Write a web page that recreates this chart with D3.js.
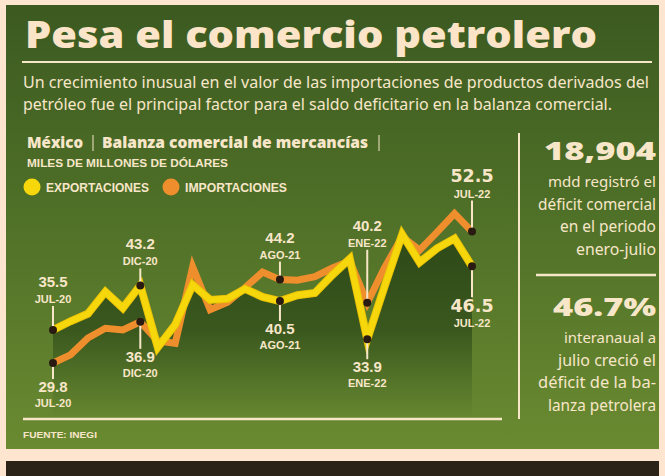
<!DOCTYPE html>
<html>
<head>
<meta charset="utf-8">
<script src="https://cdn.jsdelivr.net/npm/d3@7"></script>
<style>
  html, body { margin: 0; padding: 0; background: #fde5cf; }
  svg { display: block; }
</style>
</head>
<body>
<svg id="chart" width="665" height="476"></svg>
<script>
// months from JUL-20 to JUL-22
const months = ["JUL-20", "AGO-20", "SEP-20", "OCT-20", "NOV-20", "DIC-20",
  "ENE-21", "FEB-21", "MAR-21", "ABR-21", "MAY-21", "JUN-21", "JUL-21",
  "AGO-21", "SEP-21", "OCT-21", "NOV-21", "DIC-21", "ENE-22", "FEB-22",
  "MAR-22", "ABR-22", "MAY-22", "JUN-22", "JUL-22"];

// miles de millones de dólares
const exportaciones = [35.5, 37.0, 38.3, 42.1, 39.3, 43.2, 32.5, 36.4, 43.3,
  40.7, 40.9, 42.6, 41.2, 40.5, 41.5, 41.9, 45.0, 47.8, 33.9, 43.1, 52.0,
  47.2, 49.6, 51.3, 46.5];
const importaciones = [29.8, 31.2, 34.1, 35.8, 35.5, 36.9, 33.6, 33.2, 46.4,
  39.0, 40.3, 42.8, 45.5, 44.2, 44.1, 44.7, 46.2, 47.4, 40.2, 46.3, 51.6,
  49.3, 52.4, 55.6, 52.5];

// highlighted points: series, month, label above or below the line
const highlights = [
  { serie: "exp", month: "JUL-20", side: "up" },
  { serie: "exp", month: "DIC-20", side: "up" },
  { serie: "exp", month: "AGO-21", side: "down" },
  { serie: "exp", month: "ENE-22", side: "down" },
  { serie: "exp", month: "JUL-22", side: "down", big: true },
  { serie: "imp", month: "JUL-20", side: "down" },
  { serie: "imp", month: "DIC-20", side: "down" },
  { serie: "imp", month: "AGO-21", side: "up" },
  { serie: "imp", month: "ENE-22", side: "up" },
  { serie: "imp", month: "JUL-22", side: "up", big: true },
];
// leader length per highlight (same order)
const leaderLength = [20, 13, 16, 16, 27, 12, 23, 14, 49, 27];

const title = "Pesa el comercio petrolero";
const subtitle = [
  "Un crecimiento inusual en el valor de las importaciones de productos derivados del",
  "petróleo fue el principal factor para el saldo deficitario en la balanza comercial.",
];
const sideBlocks = [
  { big: "18,904", lines: ["mdd registró el", "déficit comercial", "en el periodo", "enero-julio"] },
  { big: "46.7%", lines: ["interanaual a", "julio creció el", "déficit de la ba-", "lanza petrolera"] },
];

const cream = "#f8e6c9";
const yellow = "#f6d70c";
const orange = "#ee8e2d";

const svg = d3.select("#chart");
const defs = svg.append("defs");

// squeeze a text to a given width, shrinking the font first if it is too long
function fit(text, width) {
  const natural = text.node().getComputedTextLength();
  if (natural > width) {
    const fs = parseFloat(text.style("font-size"));
    text.style("font-size", (fs * width / natural).toFixed(2) + "px");
  }
  text.attr("textLength", width).attr("lengthAdjust", "spacingAndGlyphs");
  return text;
}

// panel gradient
const panelGrad = defs.append("linearGradient")
  .attr("id", "panelGrad")
  .attr("x1", "0%").attr("x2", "0%").attr("y1", "0%").attr("y2", "100%");
panelGrad.append("stop").attr("offset", "0%").attr("stop-color", "#3c5a21");
panelGrad.append("stop").attr("offset", "45%").attr("stop-color", "#4e6f27");
panelGrad.append("stop").attr("offset", "100%").attr("stop-color", "#6a8a31");

svg.append("rect")
  .attr("x", 6).attr("y", 5)
  .attr("width", 653).attr("height", 444)
  .attr("fill", "url(#panelGrad)");

// dark strip at bottom
svg.append("rect")
  .attr("x", 6).attr("y", 461)
  .attr("width", 653).attr("height", 15)
  .attr("fill", "#2b2218");

/* TITLE */
fit(svg.append("text")
  .attr("x", 25).attr("y", 48)
  .attr("fill", "#fbe4c7")
  .style("font-family", "'Open Sans', 'DejaVu Sans', sans-serif")
  .style("font-weight", 800)
  .style("font-size", "37px")
  .text(title), 572);

svg.append("line")
  .attr("x1", 22).attr("x2", 652)
  .attr("y1", 62).attr("y2", 62)
  .attr("stroke", cream).attr("stroke-width", 2);

svg.selectAll(".subtitle")
  .data(subtitle)
  .join("text")
  .attr("class", "subtitle")
  .attr("x", 23)
  .attr("y", (d, i) => 88 + i * 22)
  .attr("fill", cream)
  .style("font-family", "'Liberation Sans Narrow', 'Noto Sans', sans-serif")
  .style("font-size", "17px")
  .text((d) => d)
  .each(function (d, i) { fit(d3.select(this), i === 0 ? 626 : 589); });

/* CHART HEADING + LEGEND */
const headFont = "'Open Sans', 'Liberation Sans', sans-serif";
fit(svg.append("text")
  .attr("x", 27).attr("y", 148)
  .attr("fill", cream)
  .style("font-family", headFont).style("font-weight", 800).style("font-size", "15px")
  .text("México"), 56);
fit(svg.append("text")
  .attr("x", 102).attr("y", 148)
  .attr("fill", cream)
  .style("font-family", headFont).style("font-weight", 800).style("font-size", "15px")
  .text("Balanza comercial de mercancías"), 266);
[93, 379].forEach((x) => {
  svg.append("line")
    .attr("x1", x).attr("x2", x)
    .attr("y1", 135).attr("y2", 151)
    .attr("stroke", cream).attr("stroke-width", 1);
});

fit(svg.append("text")
  .attr("x", 27).attr("y", 167)
  .attr("fill", cream)
  .style("font-family", "'Liberation Sans', sans-serif").style("font-weight", 700).style("font-size", "12px")
  .text("MILES DE MILLONES DE DÓLARES"), 201);

const legend = [
  { name: "EXPORTACIONES", color: yellow, x: 32, w: 103 },
  { name: "IMPORTACIONES", color: orange, x: 171, w: 102 },
];
const lg = svg.selectAll(".legend").data(legend).join("g").attr("class", "legend");
lg.append("circle")
  .attr("cx", (d) => d.x).attr("cy", 187).attr("r", 8.5)
  .attr("fill", (d) => d.color);
lg.append("text")
  .attr("x", (d) => d.x + 14).attr("y", 191.5)
  .attr("fill", cream)
  .style("font-family", "'Liberation Sans', sans-serif").style("font-weight", 700).style("font-size", "12.5px")
  .text((d) => d.name)
  .each(function (d) { fit(d3.select(this), d.w); });

/* SCALES */
const x = d3.scalePoint().domain(months).range([53, 472]);
const y = d3.scaleLinear().domain([30, 55]).range([361.8, 217.1]);

const expData = months.map((m, i) => ({ month: m, value: exportaciones[i] }));
const impData = months.map((m, i) => ({ month: m, value: importaciones[i] }));

/* AREA UNDER EXPORTS */
const areaGrad = defs.append("linearGradient")
  .attr("id", "areaGrad")
  .attr("gradientUnits", "userSpaceOnUse")
  .attr("x1", 0).attr("x2", 0).attr("y1", 225).attr("y2", 418);
areaGrad.append("stop").attr("offset", "0%").attr("stop-color", "#2a4617").attr("stop-opacity", 0.95);
areaGrad.append("stop").attr("offset", "55%").attr("stop-color", "#2f4c19").attr("stop-opacity", 0.75);
areaGrad.append("stop").attr("offset", "100%").attr("stop-color", "#3a5a1f").attr("stop-opacity", 0);

const area = d3.area()
  .x((d) => x(d.month))
  .y0(418)
  .y1((d) => y(d.value));

svg.append("path")
  .datum(expData)
  .attr("d", area)
  .attr("fill", "url(#areaGrad)");

/* LINES */
const line = d3.line()
  .x((d) => x(d.month))
  .y((d) => y(d.value));

svg.append("path")
  .datum(impData)
  .attr("d", line)
  .attr("fill", "none")
  .attr("stroke", orange)
  .attr("stroke-width", 7)
  .attr("stroke-linejoin", "miter");

svg.append("path")
  .datum(expData)
  .attr("d", line)
  .attr("fill", "none")
  .attr("stroke", "#e9c206")
  .attr("stroke-width", 8)
  .attr("stroke-linejoin", "miter");
svg.append("path")
  .datum(expData)
  .attr("d", line)
  .attr("fill", "none")
  .attr("stroke", yellow)
  .attr("stroke-width", 6)
  .attr("stroke-linejoin", "miter");

/* HIGHLIGHTS */
const numFont = "'Liberation Sans Narrow', 'Liberation Sans', sans-serif";
const bigFont = "'DejaVu Sans', sans-serif";

highlights.forEach((h, k) => {
  const values = h.serie === "exp" ? exportaciones : importaciones;
  const v = values[months.indexOf(h.month)];
  const cx = x(h.month);
  const cy = y(v);
  const dir = h.side === "up" ? -1 : 1;
  const end = cy + dir * (leaderLength[k] + 4);

  svg.append("line")
    .attr("x1", cx).attr("x2", cx)
    .attr("y1", cy).attr("y2", end)
    .attr("stroke", cream).attr("stroke-width", 2);

  svg.append("circle")
    .attr("cx", cx).attr("cy", cy).attr("r", 4)
    .attr("fill", "#2a1b12");

  const valSize = h.big ? 17.5 : 15;
  let valBase, dateBase;
  if (h.side === "up") {
    dateBase = end - 3;
    valBase = dateBase - 16;
  } else {
    valBase = end + (h.big ? 15 : 13);
    dateBase = valBase + 15;
  }

  svg.append("text")
    .attr("x", cx).attr("y", valBase)
    .attr("text-anchor", "middle")
    .attr("fill", cream)
    .style("font-family", h.big ? bigFont : numFont)
    .style("font-weight", 700)
    .style("font-size", valSize + "px")
    .text(d3.format(".1f")(v));

  svg.append("text")
    .attr("x", cx).attr("y", dateBase)
    .attr("text-anchor", "middle")
    .attr("fill", cream)
    .style("font-family", numFont)
    .style("font-weight", 700)
    .style("font-size", "11px")
    .text(h.month);
});

/* BASELINE, SOURCE */
svg.append("line")
  .attr("x1", 23).attr("x2", 502)
  .attr("y1", 419).attr("y2", 419)
  .attr("stroke", cream).attr("stroke-width", 2.5);

fit(svg.append("text")
  .attr("x", 23).attr("y", 438)
  .attr("fill", cream)
  .style("font-family", "'Liberation Sans', sans-serif").style("font-weight", 700).style("font-size", "9.5px")
  .text("FUENTE: INEGI"), 74);

/* SIDE PANEL */
svg.append("line")
  .attr("x1", 519).attr("x2", 519)
  .attr("y1", 133).attr("y2", 419)
  .attr("stroke", cream).attr("stroke-width", 2);

svg.append("line")
  .attr("x1", 536).attr("x2", 656)
  .attr("y1", 275).attr("y2", 275)
  .attr("stroke", cream).attr("stroke-width", 2.5);

const blockTop = [160, 316];
const bigWidths = [112, 103];
const lineWidths = [[108, 118, 96, 80], [92, 98, 118, 108]];

sideBlocks.forEach((b, i) => {
  fit(svg.append("text")
    .attr("x", 656).attr("y", blockTop[i])
    .attr("text-anchor", "end")
    .attr("fill", cream)
    .style("font-family", "'Open Sans', 'DejaVu Sans', sans-serif")
    .style("font-weight", 800)
    .style("font-size", "25px")
    .text(b.big), bigWidths[i]);

  b.lines.forEach((t, j) => {
    fit(svg.append("text")
      .attr("x", 656).attr("y", blockTop[i] + 27 + j * 22.7)
      .attr("text-anchor", "end")
      .attr("fill", cream)
      .style("font-family", "'Noto Sans', sans-serif")
      .style("font-size", "15.5px")
      .text(t), lineWidths[i][j]);
  });
});
</script>
</body>
</html>
